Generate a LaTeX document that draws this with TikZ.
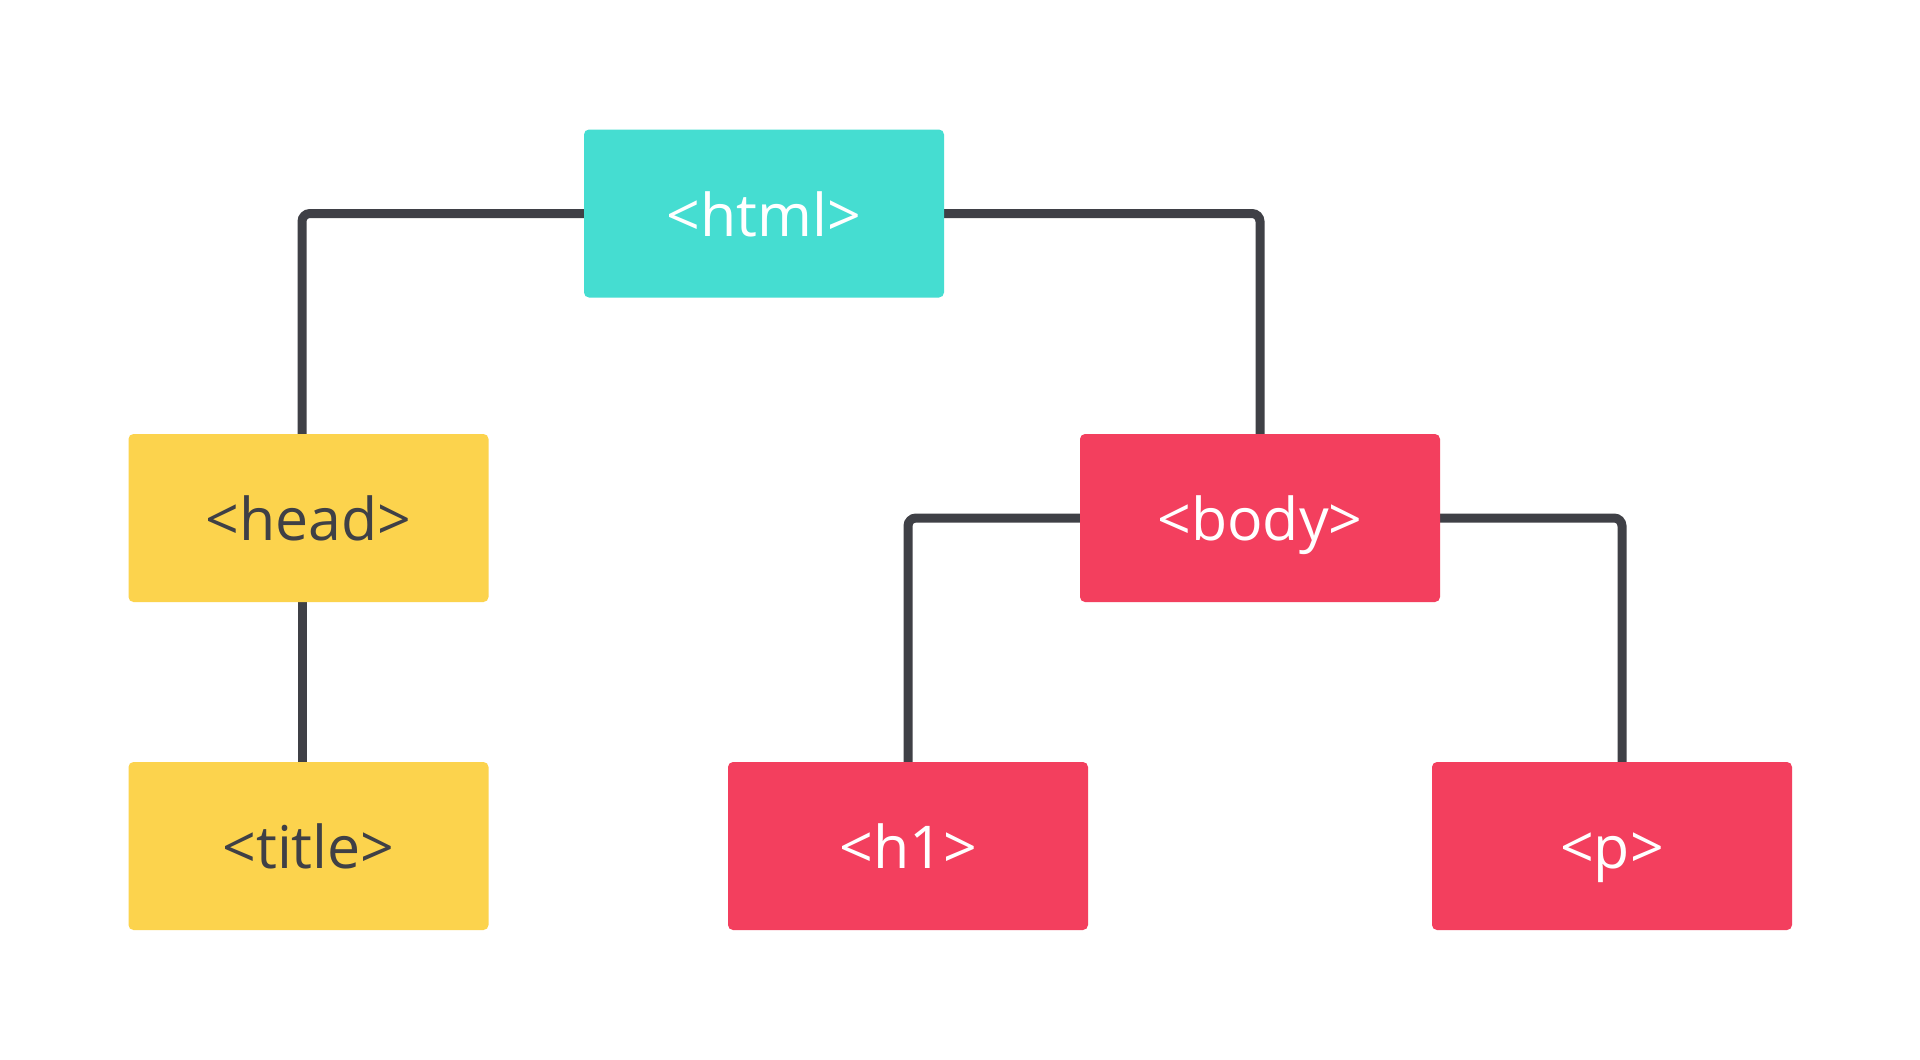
\documentclass[tikz,border=0pt]{standalone}
\usepackage{fontspec}
\setmainfont{Open Sans}
\usepackage{xcolor}
\usetikzlibrary{backgrounds}
\definecolor{tagTeal}{RGB}{69,221,209}
\definecolor{tagYellow}{RGB}{252,211,77}
\definecolor{tagRed}{RGB}{243,63,94}
\definecolor{treeLine}{RGB}{63,64,70}

\begin{document}
\begin{tikzpicture}[x=1pt,y=-1pt,
    tag/.style={rectangle, rounded corners=5pt, inner sep=0pt,
      minimum width=360pt, minimum height=168pt,
      text height=45pt, text depth=0pt,
      font=\fontsize{59}{70}\selectfont},
    root/.style={tag, fill=tagTeal, text=white},
    headpart/.style={tag, fill=tagYellow, text=treeLine},
    bodypart/.style={tag, fill=tagRed, text=white},
    branch/.style={draw=treeLine, line width=9pt, rounded corners=8pt}
  ]
  \useasboundingbox (0,0) rectangle (1920,1060);

  % Baum der Elemente
  \node[root]     (html)  at (764,213.5) {<html>};
  \node[headpart] (head)  at (308.5,518) {<head>};
  \node[headpart] (title) at (308.5,846) {<title>};
  \node[bodypart] (body)  at (1260,518)  {<body>};
  \node[bodypart] (h1)    at (908,846)   {<h1>};
  \node[bodypart] (p)     at (1612,846)  {<p>};

  \begin{scope}[on background layer]
    \fill[white] (0,0) rectangle (1920,1060);
    \draw[branch] (html.west) -| ([xshift=-6.5pt]head.north);
    \draw[branch] (html.east) -| (body.north);
    \draw[branch] ([xshift=-6.5pt]head.south) -- ([xshift=-6.5pt]title.north);
    \draw[branch] (body.west) -| (h1.north);
    \draw[branch] (body.east) -| ([xshift=10pt]p.north);
  \end{scope}
\end{tikzpicture}
\end{document}
